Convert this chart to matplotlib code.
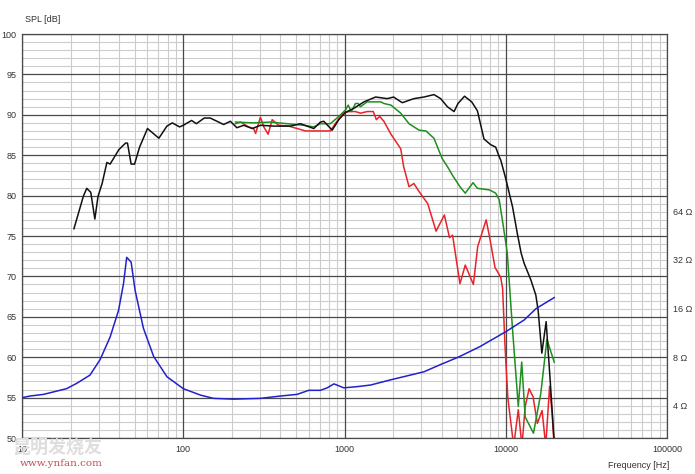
import matplotlib
matplotlib.use("Agg")
import matplotlib.pyplot as plt
from matplotlib.ticker import FixedLocator, NullFormatter, FixedFormatter
import numpy as np

# ---------------- data ----------------
black_f = [21.0, 24.0, 25.2, 26.7, 28.3, 29.6, 31.4, 33.6, 35.2, 39.9, 43.9, 45.1, 47.5, 49.9,
           53.6, 60.0, 70.6, 79.2, 85.5, 94.9, 100, 112.7, 120.5, 135, 147, 178, 196, 215, 237,
           268, 301, 364, 462, 533, 645, 709, 744, 839, 922, 1014, 1143, 1320, 1560, 1841, 2016,
           2281, 2693, 3110, 3587, 3948, 4345, 4780, 5058, 5550, 6150, 6670, 7330, 8070, 8660,
           9110, 9310, 10000, 11020, 11800, 12450, 13010, 14290, 15360, 15880, 16740, 17800,
           18850, 19970]
black_db = [75.9, 79.9, 80.9, 80.4, 77.1, 79.9, 81.5, 84.1, 83.9, 85.7, 86.5, 86.5, 83.9, 83.9,
            86.0, 88.3, 87.1, 88.6, 89.0, 88.5, 88.7, 89.3, 88.9, 89.6, 89.6, 88.8, 89.2, 88.4, 88.7,
            88.3, 88.7, 88.6, 88.6, 88.9, 88.3, 89.1, 89.2, 88.1, 89.4, 90.3, 90.8, 91.6, 92.2, 92.0, 92.2,
            91.5, 92.0, 92.2, 92.5, 92.0, 91.0, 90.4, 91.4, 92.3, 91.6, 90.5, 87.0, 86.3, 86.0,
            84.8, 84.4, 82.1, 78.6, 75.3, 72.9, 71.6, 69.6, 67.7, 65.8, 60.5, 64.4,
            57.2, 49.5]

green_f = [211, 273, 347, 440, 559, 645, 709, 818, 922, 1014, 1054, 1101, 1170, 1216, 1255, 1383,
           1596, 1683, 1754, 1941, 2232, 2512, 2900, 3200, 3587, 4030, 4345, 4680, 5200, 5610,
           6270, 6670, 7930, 8660, 9110, 9660, 10220, 10490, 11020, 11960, 12560, 13200, 14860,
           16490, 18000, 19970]
green_db = [89.1, 89.0, 89.1, 88.9, 88.7, 88.5, 88.9, 88.9, 89.8, 90.6, 91.2, 90.4, 91.4, 91.4, 91.0, 91.6,
            91.6, 91.6, 91.4, 91.2, 90.2, 88.9, 88.1, 88.0, 87.1, 84.6, 83.6, 82.5, 81.1, 80.3,
            81.6, 80.9, 80.7, 80.3, 79.5, 76.2, 72.9, 69.6, 63.4, 53.9, 59.4, 52.6, 50.6,
            55.5, 62.2, 59.4]

red_f = [211, 227, 254, 273, 281, 301, 316, 336, 356, 390, 451, 573, 818, 876, 980, 1064, 1170,
         1255, 1383, 1508, 1576, 1653, 1754, 1941, 2232, 2326, 2512, 2693, 2900, 3283, 3697,
         4162, 4480, 4680, 5200, 5610, 6300, 6700, 7560, 7930, 8580, 9310, 9560, 9900, 10300,
         11200, 11960, 12600, 13200, 13960, 14770, 15700, 16800, 17700, 18700, 19400, 19970]
red_db = [88.9, 89.1, 88.5, 88.3, 87.7, 89.7, 88.5, 87.6, 89.4, 88.7, 88.6, 88.0, 88.0, 88.9, 90.2, 90.4, 90.4,
          90.2, 90.4, 90.4, 89.4, 89.8, 89.2, 87.6, 85.8, 83.6, 81.1, 81.5, 80.5, 79.0, 75.6,
          77.6, 74.8, 75.1, 69.1, 71.4, 69.0, 73.7, 77.0, 74.9, 71.1, 69.9, 68.5, 61.3, 55.0,
          49.0, 53.5, 49.0, 53.9, 56.1, 55.1, 51.8, 53.4, 49.0, 56.4, 53.0, 49.0]

imp_f = [10.1, 11.2, 13.6, 15.7, 18.9, 21.9, 26.4, 30.5, 35.2, 39.7, 42.6, 44.6, 47.5, 50.3,
         56.6, 65.5, 79.2, 100, 128, 154, 205, 301, 400, 508, 600, 709, 781, 860, 991, 1200,
         1450, 1940, 2560, 3110, 3948, 5070, 6900, 10000, 13010, 15430, 19970]
imp_ohm = [4.50, 4.60, 4.71, 4.88, 5.11, 5.52, 6.20, 7.73, 10.67, 15.6, 22.8, 33.2, 31.0, 20.7,
           12.1, 8.09, 6.06, 5.11, 4.66, 4.45, 4.40, 4.45, 4.60, 4.71, 4.99, 4.99, 5.17, 5.47,
           5.17, 5.26, 5.38, 5.80, 6.20, 6.50, 7.21, 8.0, 9.29, 11.5, 13.6, 16.0, 18.7]

x_ticks = [10, 100, 1000, 10000, 100000]
x_labels = ["10", "100", "1000", "10000", "100000"]
y_ticks = [50, 55, 60, 65, 70, 75, 80, 85, 90, 95, 100]
z_ticks = [4, 8, 16, 32, 64]
z_labels = ["4 \u03a9", "8 \u03a9", "16 \u03a9", "32 \u03a9", "64 \u03a9"]

# ---------------- figure ----------------
plt.rcParams['font.family'] = ['Liberation Sans', 'DejaVu Sans']
FS = 6.5
fig = plt.figure(figsize=(6.95, 4.74), dpi=100)
ax = fig.add_axes([22/695, 1-438/474, (667-22)/695, (438-34)/474])
ax.set_xscale('log')
ax.set_xlim(10, 100000)
ax.set_ylim(50, 100)

ax.xaxis.set_major_locator(FixedLocator(x_ticks))
ax.xaxis.set_major_formatter(FixedFormatter(x_labels))
ax.xaxis.set_minor_locator(FixedLocator([]))
ax.xaxis.set_minor_formatter(NullFormatter())
ax.yaxis.set_major_locator(FixedLocator(y_ticks))
ax.yaxis.set_minor_locator(FixedLocator([]))

# grid lines (minor light, major dark on top)
minor_x = [m * 10**e for e in range(1, 5) for m in range(2, 10)]
minor_c, major_c = '#cccccc', '#4a4a4a'
for xv in minor_x:
    ax.axvline(xv, color=minor_c, lw=0.8, zorder=0.5)
for yv in range(51, 100):
    if yv % 5:
        ax.axhline(yv, color=minor_c, lw=0.8, zorder=0.5)
for xv in x_ticks:
    ax.axvline(xv, color=major_c, lw=0.9, zorder=1)
for yv in y_ticks:
    ax.axhline(yv, color=major_c, lw=0.9, zorder=1)

ax.tick_params(which='both', length=0)
ax.tick_params(axis='y', pad=4, labelsize=FS, labelcolor='#333333')
ax.tick_params(axis='x', pad=5, labelsize=FS, labelcolor='#333333')
for s in ax.spines.values():
    s.set_color(major_c)
    s.set_linewidth(0.9)

lw = 1.1
ax.plot(black_f, black_db, color='#111111', lw=lw, zorder=5)
ax.plot(green_f, green_db, color='#1f8f1f', lw=lw, zorder=4)
ax.plot(red_f, red_db, color='#e8232a', lw=lw, zorder=3)

ax2 = ax.twinx()
ax2.set_yscale('log')
ax2.set_ylim(8 * 10**(-0.5), 8 * 10**2)
ax2.yaxis.set_major_locator(FixedLocator(z_ticks))
ax2.yaxis.set_major_formatter(FixedFormatter(z_labels))
ax2.yaxis.set_minor_locator(FixedLocator([]))
ax2.yaxis.set_minor_formatter(NullFormatter())
ax2.tick_params(which='both', length=0, pad=4, labelsize=FS, labelcolor='#333333')
for s in ax2.spines.values():
    s.set_visible(False)
ax2.plot(imp_f, imp_ohm, color='#2222cc', lw=lw)

fig.text(25/695, 1-20/474, "SPL [dB]", fontsize=FS, color='#333333', va='center', ha='left')
fig.text(669/695, 1-466/474, "Frequency [Hz]", fontsize=FS, color='#333333', va='center', ha='right')

# watermark
fig.text(12/695, 1-447/474, "昆明发烧友", fontsize=13, color='#dedede', va='center', ha='left',
         family=['Noto Sans CJK SC', 'DejaVu Sans'], fontweight='bold', zorder=0)
fig.text(20/695, 1-463/474, "www.ynfan.com", fontsize=7.5, color='#c85050', va='center', ha='left',
         family=['DejaVu Serif'])

fig.savefig("out.png", dpi=100)
